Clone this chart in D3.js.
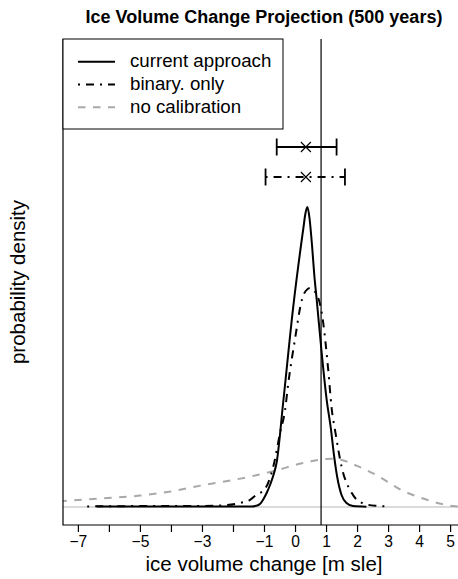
<!DOCTYPE html>
<html>
<head>
<meta charset="utf-8">
<script src="https://cdn.jsdelivr.net/npm/d3@7"></script>
<style>
  html, body { margin: 0; padding: 0; background: #fff; }
  svg { display: block; font-family: "Liberation Sans", Arial, sans-serif; }
</style>
</head>
<body>
<div id="chart-area"></div>
<script>

// density curves
var currentX = [-6.4, -4, -2, -1.4, -1.25, -1.13, -1.02, -0.9, -0.8, -0.7, -0.59, -0.38, -0.05, 0.19, 0.27, 0.33, 0.40, 0.47, 0.55, 0.62, 0.70, 0.84, 1.02, 1.16, 1.26, 1.36, 1.5, 1.65, 1.87, 2.3];
var currentY = [0.002, 0.002, 0.002, 0.002, 0.004, 0.01, 0.026, 0.05, 0.075, 0.105, 0.15, 0.35, 0.674, 0.87, 0.93, 0.975, 1.0, 0.96, 0.87, 0.775, 0.69, 0.535, 0.358, 0.258, 0.17, 0.1, 0.04, 0.014, 0.003, 0.001];

var binaryX = [-6.7, -5, -3.5, -2.4, -1.8, -1.45, -1.24, -0.97, -0.70, -0.48, -0.32, -0.22, 0.0, 0.22, 0.30, 0.40, 0.50, 0.60, 0.72, 0.86, 0.91, 1.07, 1.18, 1.30, 1.50, 1.82, 2.2, 2.6, 3.0];
var binaryY = [0.002, 0.003, 0.003, 0.005, 0.013, 0.024, 0.041, 0.06, 0.135, 0.248, 0.324, 0.41, 0.56, 0.69, 0.713, 0.726, 0.73, 0.722, 0.705, 0.648, 0.613, 0.458, 0.33, 0.25, 0.135, 0.048, 0.012, 0.004, 0.002];

var nocalX = [-7.6, -6.3, -5, -4, -3, -2, -1.5, -1, -0.5, 0, 0.5, 0.9, 1.2, 1.5, 2.0, 2.5, 3.0, 3.4, 3.8, 4.25, 4.7, 5.1, 5.6];
var nocalY = [0.019, 0.028, 0.038, 0.052, 0.072, 0.09, 0.1, 0.112, 0.125, 0.14, 0.152, 0.159, 0.161, 0.157, 0.137, 0.113, 0.083, 0.058, 0.04, 0.024, 0.011, 0.003, 0.001];

// intervals shown above the curves (current approach, binary only)
var intervalY = [1.2, 1.1];
var intervalLo = [-0.59, -0.95];
var intervalHi = [1.34, 1.61];
var intervalMid = [0.35, 0.35];

var refX = 0.84;

var xTicks = [-7, -6, -5, -4, -3, -2, -1, 0, 1, 2, 3, 4, 5];
var xTickLabels = [-7, -5, -3, -1, 0, 1, 2, 3, 4, 5];

var legendLabels = ["current approach", "binary. only", "no calibration"];

var margin = {top: 39, right: -7, bottom: 54, left: 63},
    width = 458 - margin.left - margin.right,
    height = 579 - margin.top - margin.bottom;

var dotdash = "2,6,8,6",
    dashed = "7.5,7.5";

var svg = d3.select("#chart-area")
    .append("svg")
        .attr("width", 458)
        .attr("height", 579);

var g = svg.append("g")
        .attr("transform", "translate(" + margin.left + "," + margin.top + ")");

// R style 4% padding on both axes
var xScale = d3.scaleLinear().domain([-7.48, 5.48]).range([0, width]);
var yScale = d3.scaleLinear().domain([-0.06, 1.56]).range([height, 0]);

g.append("clipPath").attr("id", "plot-clip")
    .append("rect").attr("width", width).attr("height", height);

var plot = g.append("g").attr("clip-path", "url(#plot-clip)");

// zero line
plot.append("line")
    .attr("x1", 0).attr("x2", width)
    .attr("y1", yScale(0)).attr("y2", yScale(0))
    .attr("stroke", "#cfcfcf")
    .attr("stroke-width", 1.5);

var line = d3.line()
    .x(function(d) { return xScale(d[0]); })
    .y(function(d) { return yScale(d[1]); })
    .curve(d3.curveMonotoneX);

var series = [
    {x: nocalX, y: nocalY, color: "#a9a9a9", dash: dashed},
    {x: binaryX, y: binaryY, color: "#000", dash: dotdash},
    {x: currentX, y: currentY, color: "#000", dash: null}
];

series.forEach(function(s) {
    plot.append("path")
        .datum(d3.zip(s.x, s.y))
        .attr("d", line)
        .attr("fill", "none")
        .attr("stroke", s.color)
        .attr("stroke-width", 2)
        .attr("stroke-dasharray", s.dash);
});

// reference line
plot.append("line")
    .attr("x1", xScale(refX)).attr("x2", xScale(refX))
    .attr("y1", 0).attr("y2", height)
    .attr("stroke", "#000")
    .attr("stroke-width", 1.2);

// intervals
intervalY.forEach(function(y, i) {
    var yy = yScale(y);
    var eb = plot.append("g");
    eb.append("line")
        .attr("x1", xScale(intervalLo[i])).attr("x2", xScale(intervalHi[i]))
        .attr("y1", yy).attr("y2", yy)
        .attr("stroke", "#000").attr("stroke-width", 1.8)
        .attr("stroke-dasharray", i == 1 ? dotdash : null);
    [intervalLo[i], intervalHi[i]].forEach(function(v) {
        eb.append("line")
            .attr("x1", xScale(v)).attr("x2", xScale(v))
            .attr("y1", yy - 8.5).attr("y2", yy + 8.5)
            .attr("stroke", "#000").attr("stroke-width", 1.8);
    });
    var cx = xScale(intervalMid[i]);
    eb.append("path")
        .attr("d", "M" + (cx - 5) + "," + (yy - 5) + "L" + (cx + 5) + "," + (yy + 5) +
                   "M" + (cx - 5) + "," + (yy + 5) + "L" + (cx + 5) + "," + (yy - 5))
        .attr("stroke", "#000").attr("stroke-width", 1.1).attr("fill", "none");
});

// box (left and bottom)
g.append("path")
    .attr("d", "M0,0V" + height + "H" + width)
    .attr("fill", "none")
    .attr("stroke", "#000")
    .attr("stroke-width", 1.2);

// x axis
var xAxis = d3.axisBottom(xScale)
    .tickValues(xTicks)
    .tickSize(7)
    .tickFormat(function(d) {
        if (xTickLabels.indexOf(d) < 0) return "";
        return d < 0 ? "\u2212" + Math.abs(d) : d;
    });

var xAxisEl = g.append("g")
    .attr("transform", "translate(0," + height + ")")
    .call(xAxis);
xAxisEl.select(".domain").remove();
xAxisEl.selectAll(".tick line").attr("stroke", "#000").attr("stroke-width", 1.2);
xAxisEl.selectAll(".tick text")
    .attr("y", 11)
    .attr("font-family", "Liberation Sans, Arial, sans-serif")
    .attr("font-size", 15.6)
    .attr("fill", "#000");

// titles
svg.append("text")
    .attr("x", 264).attr("y", 23)
    .attr("text-anchor", "middle")
    .attr("font-weight", "bold")
    .attr("font-size", 18)
    .text("Ice Volume Change Projection (500 years)");

svg.append("text")
    .attr("x", 264).attr("y", 571)
    .attr("text-anchor", "middle")
    .attr("font-size", 20.5)
    .text("ice volume change [m sle]");

svg.append("text")
    .attr("transform", "translate(25," + (margin.top + height / 2) + ") rotate(-90)")
    .attr("text-anchor", "middle")
    .attr("font-size", 20.5)
    .text("probability density");

// legend
var legend = g.append("g");
legend.append("rect")
    .attr("x", 0).attr("y", 0)
    .attr("width", 220).attr("height", 90)
    .attr("fill", "#fff")
    .attr("stroke", "#000")
    .attr("stroke-width", 1);

var legendStyles = [
    {color: "#000", dash: null},
    {color: "#000", dash: dotdash},
    {color: "#a9a9a9", dash: dashed}
];

legendLabels.forEach(function(label, i) {
    var ly = 22.7 + i * 22.8;
    legend.append("line")
        .attr("x1", 15).attr("x2", 52)
        .attr("y1", ly).attr("y2", ly)
        .attr("stroke", legendStyles[i].color)
        .attr("stroke-width", 2)
        .attr("stroke-dasharray", legendStyles[i].dash);
    legend.append("text")
        .attr("x", 67).attr("y", ly + 5.5)
        .attr("font-size", 18.7)
        .text(label);
});

</script>
</body>
</html>
